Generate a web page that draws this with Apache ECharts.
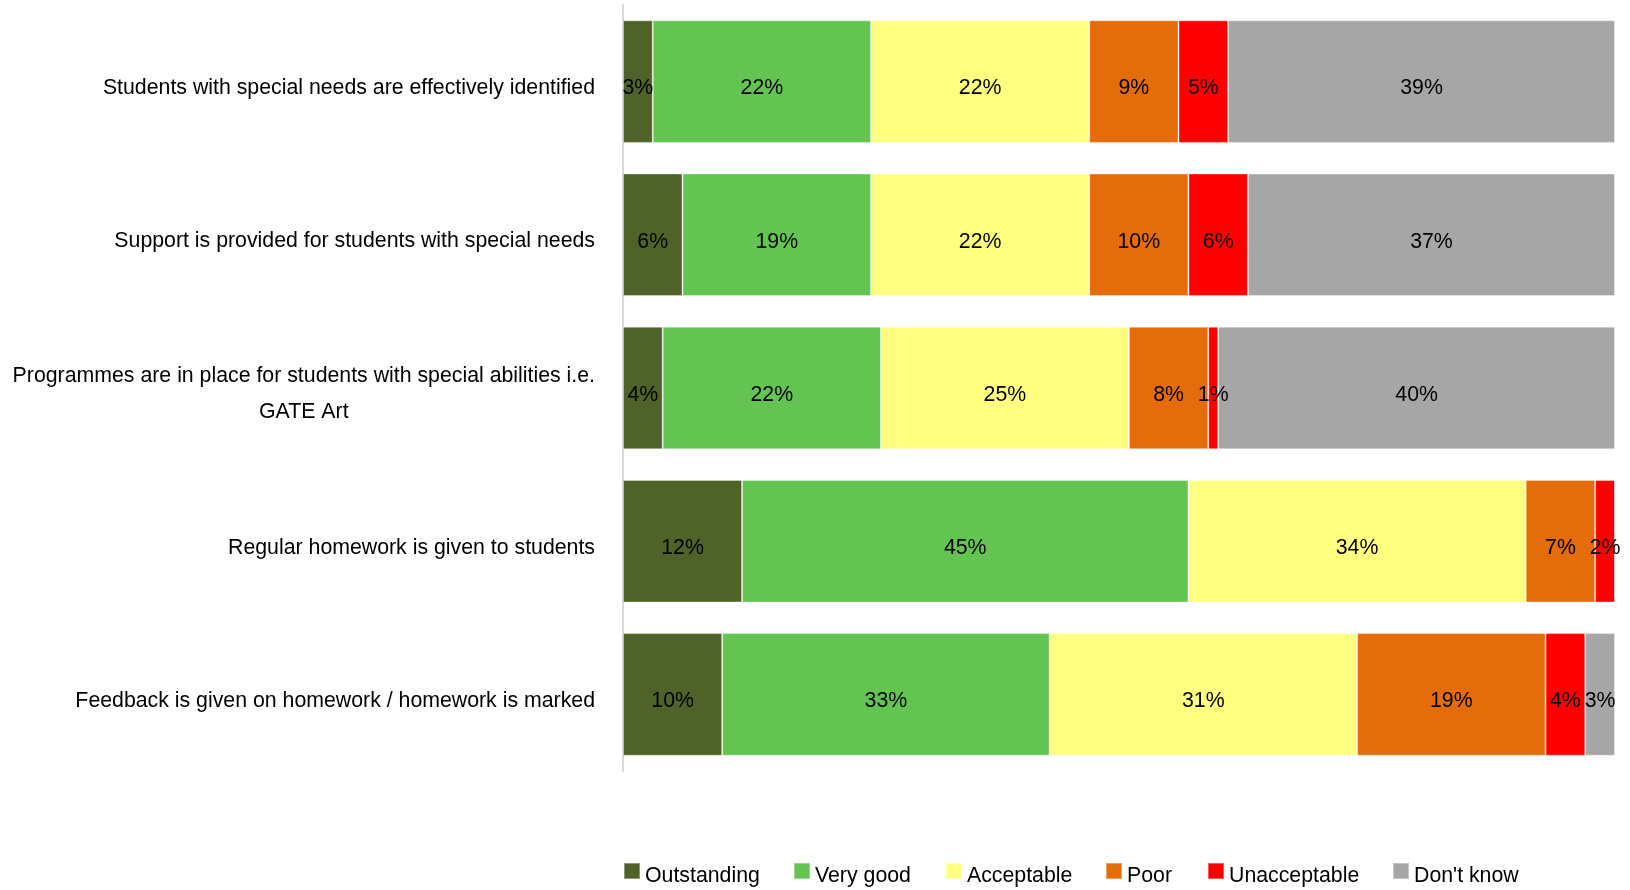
<!DOCTYPE html>
<html>
<head>
<meta charset="utf-8">
<script src="https://cdn.jsdelivr.net/npm/echarts@6/dist/echarts.min.js"></script>
<style>
html,body{margin:0;padding:0;background:#fff;}
#chart{width:1630px;height:890px;}
</style>
</head>
<body>
<div id="chart"></div>
<script>
const categories = [
  "Students with special needs are effectively identified",
  "Support is provided for students with special needs",
  "Programmes are in place for students with special abilities i.e.\nGATE Art",
  "Regular homework is given to students",
  "Feedback is given on homework / homework is marked"
];
const seriesNames = ["Outstanding", "Very good", "Acceptable", "Poor", "Unacceptable", "Don't know"];
const outstanding  = [3, 6, 4, 12, 10];
const veryGood     = [22, 19, 22, 45, 33];
const acceptable   = [22, 22, 25, 34, 31];
const poor         = [9, 10, 8, 7, 19];
const unacceptable = [5, 6, 1, 2, 4];
const dontKnow     = [39, 37, 40, 0, 3];
const seriesData = [outstanding, veryGood, acceptable, poor, unacceptable, dontKnow];
const colors = ["#4F6228", "#63C452", "#FFFF80", "#E46C0A", "#FF0000", "#A6A6A6"];
const legendLefts = [623, 793, 945, 1105, 1207, 1392];

const FONT = "'Liberation Sans', Arial, sans-serif";
const FS = 21.3;
const chart = echarts.init(document.getElementById('chart'));
chart.setOption({
  animation: false,
  textStyle: { fontFamily: FONT },
  grid: { left: 623, right: 15, top: 5, bottom: 119, containLabel: false },
  legend: seriesNames.map(function (name, i) {
    return {
      data: [name],
      left: legendLefts[i],
      top: 862,
      padding: 0,
      itemWidth: 16,
      itemHeight: 16,
      itemGap: 8,
      icon: 'rect',
      formatter: '{a|{name}}',
      textStyle: {
        fontFamily: FONT, fontSize: FS, color: '#000',
        rich: { a: { fontFamily: FONT, fontSize: FS, color: '#000', padding: [10, 0, 0, 0] } }
      }
    };
  }),
  xAxis: {
    type: 'value', min: 0, max: 100, show: false
  },
  yAxis: {
    type: 'category',
    data: categories,
    inverse: true,
    axisLine: { show: true, lineStyle: { color: '#d9d9d9', width: 2 } },
    axisTick: { show: false },
    axisLabel: {
      margin: 28,
      fontSize: FS,
      color: '#000',
      fontFamily: FONT,
      padding: [13, 0, 0, 0],
      formatter: function (v) {
        return v.split('\n').map(function (l) { return '{c|' + l + '}'; }).join('\n');
      },
      rich: {
        c: { align: 'center', fontSize: FS, color: '#000', fontFamily: FONT, lineHeight: 36 }
      }
    }
  },
  series: seriesNames.map(function (name, i) {
    return {
      name: name,
      type: 'bar',
      stack: 'total',
      barCategoryGap: '20%',
      data: seriesData[i],
      itemStyle: { color: colors[i], borderColor: 'rgba(255,255,255,0.35)', borderWidth: 1 },
      label: {
        show: true,
        position: 'inside',
        offset: [0, 7],
        fontSize: FS,
        color: '#000',
        fontFamily: FONT,
        formatter: function (p) { return p.value > 0 ? p.value + '%' : ''; }
      }
    };
  })
});
</script>
</body>
</html>
